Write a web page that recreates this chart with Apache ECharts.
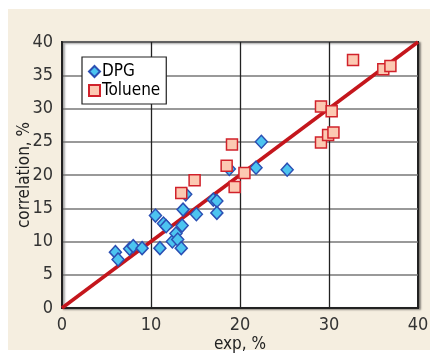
<!DOCTYPE html>
<html>
<head>
<meta charset="utf-8">
<script src="https://cdn.jsdelivr.net/npm/echarts@6/dist/echarts.min.js"></script>
<style>
  body { margin: 0; background: #fff; }
  #bg { position: absolute; left: 8px; top: 9px; width: 422px; height: 341px; background: #f5eee0; }
  #main { position: absolute; left: 0; top: 0; width: 430px; height: 357px; }
</style>
</head>
<body>
<div id="bg"></div>
<div id="main"></div>
<script>
  // DPG points: [exp, correlation]
  var dpg_data = [
    [6.0, 8.4], [6.3, 7.3], [7.6, 8.9], [8.0, 9.3], [9.0, 9.0],
    [10.5, 13.9], [11.0, 9.0], [11.4, 12.7], [11.7, 12.3], [12.4, 10.0],
    [12.8, 11.2], [13.0, 10.3], [13.4, 9.0], [13.5, 12.4], [13.6, 14.8],
    [13.9, 17.1], [15.1, 14.1], [17.0, 16.3], [17.4, 16.1], [17.4, 14.3],
    [18.8, 20.9], [21.8, 21.1], [22.4, 25.0], [25.3, 20.8]
  ];
  // Toluene points
  var toluene_data = [
    [13.4, 17.3], [14.9, 19.2], [18.5, 21.4], [19.1, 24.6], [19.4, 18.2],
    [20.5, 20.3], [29.1, 24.9], [29.9, 26.0], [30.5, 26.4], [29.1, 30.3],
    [30.3, 29.6], [32.7, 37.3], [36.1, 35.9], [36.9, 36.4]
  ];
  // parity line
  var line_data = [[0, 0], [40, 40]];

  var font = "'DejaVu Sans Condensed', 'Liberation Sans', sans-serif";

  var myChart = echarts.init(document.getElementById("main"));
  var option = {
    animation: false,
    textStyle: { fontFamily: font },
    grid: {
      left: 62,
      right: 12,
      top: 42,
      bottom: 49,
      outerBoundsMode: "none",
      containLabel: false,
      show: true,
      backgroundColor: "#fff",
      borderColor: "#222",
      borderWidth: 2,
      shadowColor: "rgba(0,0,0,0.35)",
      shadowBlur: 2,
      shadowOffsetX: 2,
      shadowOffsetY: 1
    },
    legend: {
      orient: "vertical",
      left: 82,
      top: 57,
      backgroundColor: "#fff",
      borderColor: "#222",
      borderWidth: 1.2,
      borderRadius: 0,
      padding: [6, 6, 5, 6],
      itemGap: 2,
      itemWidth: 11,
      itemHeight: 11,
      textStyle: { fontFamily: font, fontSize: 17, color: "#000", padding: [0, 0, 0, -3] },
      data: ["DPG", "Toluene"]
    },
    xAxis: {
      type: "value",
      min: 0,
      max: 40,
      interval: 10,
      name: "exp, %",
      nameLocation: "middle",
      nameGap: 28,
      nameMoveOverlap: false,
      nameTextStyle: { fontFamily: font, fontSize: 17, color: "#222" },
      axisLine: { lineStyle: { color: "#222", width: 2 } },
      axisTick: { show: false },
      axisLabel: { fontFamily: font, fontSize: 18, color: "#333", margin: 8 },
      splitLine: { lineStyle: { color: "#222", width: 1.3 } }
    },
    yAxis: {
      type: "value",
      min: 0,
      max: 40,
      interval: 5,
      name: "correlation, %",
      nameLocation: "middle",
      nameGap: 29,
      nameMoveOverlap: false,
      nameTextStyle: { fontFamily: font, fontSize: 17, color: "#222" },
      axisLine: { lineStyle: { color: "#222", width: 2 } },
      axisTick: { show: false },
      axisLabel: { fontFamily: font, fontSize: 18, color: "#333", margin: 9 },
      splitLine: { lineStyle: { color: "#777", width: 1.6 } }
    },
    series: [
      {
        type: "line",
        data: line_data,
        symbol: "none",
        z: 1,
        lineStyle: { color: "#c4161c", width: 3.5 }
      },
      {
        name: "DPG",
        type: "scatter",
        data: dpg_data,
        symbol: "diamond",
        symbolSize: [12, 13],
        z: 3,
        itemStyle: { color: "#4cc4f0", borderColor: "#2b4fb3", borderWidth: 1.5, opacity: 1 }
      },
      {
        name: "Toluene",
        type: "scatter",
        data: toluene_data,
        symbol: "rect",
        symbolSize: 11,
        z: 3,
        itemStyle: { color: "#fcc9b2", borderColor: "#d1222b", borderWidth: 1.5, opacity: 1 }
      }
    ]
  };
  myChart.setOption(option);
</script>
</body>
</html>
